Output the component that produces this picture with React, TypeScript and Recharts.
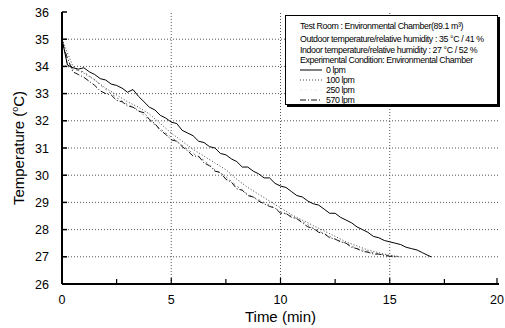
import React from "react";
import { LineChart, Line, XAxis, YAxis, ReferenceLine } from "recharts";

// ---- data ----
const T0 = [0,0.25,0.5,0.75,1,1.25,1.5,1.75,2,2.25,2.5,2.75,3,3.25,3.5,3.75,4,4.25,4.5,4.75,5,5.25,5.5,5.75,6,6.25,6.5,6.75,7,7.25,7.5,7.75,8,8.25,8.5,8.75,9,9.25,9.5,9.75,10,10.25,10.5,10.75,11,11.25,11.5,11.75,12,12.25,12.5,12.75,13,13.25,13.5,13.75,14,14.25,14.5,14.75,15,15.25,15.5,15.75,16,16.25,16.5,16.75,16.9];
const V0 = [35.0,34.05,33.95,33.9,33.95,33.8,33.7,33.55,33.5,33.35,33.3,33.2,33.05,33.15,32.9,32.7,32.5,32.4,32.2,32.1,31.95,31.9,31.65,31.55,31.45,31.25,31.2,31.05,31.0,30.8,30.75,30.6,30.5,30.3,30.3,30.15,30.05,29.9,29.9,29.7,29.6,29.55,29.4,29.25,29.2,29.05,28.95,28.9,28.75,28.6,28.6,28.45,28.35,28.25,28.1,28.0,27.9,27.75,27.7,27.6,27.55,27.5,27.45,27.35,27.3,27.25,27.15,27.05,27.0];

const T100 = [0,0.25,0.5,0.75,1,1.5,2,2.5,3,3.5,4,4.5,5,5.5,6,6.5,7,7.5,8,8.5,9,9.5,10,10.5,11,11.5,12,12.5,13,13.5,14,14.5,15,15.5];
const V100 = [35.0,34.5,34.0,33.85,33.75,33.5,33.2,32.95,32.7,32.5,32.25,31.9,31.55,31.25,30.95,30.7,30.45,30.2,29.85,29.55,29.3,29.05,28.8,28.55,28.35,28.15,27.95,27.75,27.55,27.4,27.25,27.15,27.05,27.0];

const T250 = [0,0.25,0.5,1,1.5,2,2.5,3,3.5,4,4.5,5,5.5,6,6.5,7,7.5,8,8.5,9,9.5,10,10.5,11,11.5,12,12.5,13,13.5,14,14.5,15,15.5];
const V250 = [35.1,34.0,33.9,33.8,33.5,33.15,32.85,32.6,32.4,32.0,31.7,31.4,31.1,30.8,30.55,30.2,29.95,29.6,29.3,29.1,28.9,28.65,28.5,28.3,28.05,27.85,27.65,27.5,27.3,27.2,27.1,27.05,27.0];

const T570 = [0,0.25,0.5,0.75,1,1.25,1.5,1.75,2,2.25,2.5,2.75,3,3.25,3.5,3.75,4,4.25,4.5,4.75,5,5.25,5.5,5.75,6,6.25,6.5,6.75,7,7.25,7.5,7.75,8,8.25,8.5,8.75,9,9.25,9.5,9.75,10,10.25,10.5,10.75,11,11.25,11.5,11.75,12,12.25,12.5,12.75,13,13.25,13.5,13.75,14,14.25,14.5,14.75,15,15.25];
const V570 = [34.9,34.3,33.8,33.7,33.6,33.45,33.3,33.1,33.0,32.95,32.75,32.7,32.55,32.5,32.35,32.3,32.05,31.9,31.65,31.5,31.3,31.25,31.05,30.9,30.7,30.7,30.45,30.35,30.15,30.1,29.85,29.75,29.5,29.45,29.25,29.2,29.05,28.95,28.85,28.8,28.6,28.6,28.45,28.4,28.25,28.1,28.05,27.9,27.85,27.7,27.65,27.55,27.5,27.35,27.3,27.2,27.17,27.1,27.1,27.05,27.02,27.0];

const X_DOMAIN = [0, 20];
const Y_DOMAIN = [26, 36];
const X_TICKS = [0,2.5,5,7.5,10,12.5,15,17.5,20];
const X_LABELS = [0,5,10,15,20];
const Y_TICKS = [26,26.5,27,27.5,28,28.5,29,29.5,30,30.5,31,31.5,32,32.5,33,33.5,34,34.5,35,35.5,36];
const GRID_Y = [27,28,29,30,31,32,33,34,35];
const GRID_X = [5,10,15];

const INFO_LINES = [
  "Test Room : Environmental Chamber(89.1 m\u00B3)",
  "Outdoor temperature/relative humidity : 35 \u00B0C / 41 %",
  "Indoor temperature/relative humidity : 27 \u00B0C / 52 %",
  "Experimental Condition: Environmental Chamber",
];
const SERIES_NAMES = ["0 lpm", "100 lpm", "250 lpm", "570 lpm"];

const zip = (t: number[], v: number[]) => t.map((x, i) => ({ x, y: v[i] }));
const d0 = zip(T0, V0);
const d100 = zip(T100, V100);
const d250 = zip(T250, V250);
const d570 = zip(T570, V570);

const FONT = "'Liberation Sans', Arial, sans-serif";
const PLOT_LEFT = 62;
const PLOT_BOTTOM = 284;

const YTick = (props: any) => {
  const { y, payload } = props;
  const v = payload.value;
  const major = Number.isInteger(v);
  return (
    <g>
      <line x1={PLOT_LEFT} x2={PLOT_LEFT + (major ? 5 : 3)} y1={y} y2={y} stroke="#000" strokeWidth={1.5} />
      {major && (
        <text x={49} y={y} dy={4.5} textAnchor="end" fontSize={12.5} fontFamily={FONT} fill="#000">
          {v}
        </text>
      )}
    </g>
  );
};

const XTick = (props: any) => {
  const { x, payload } = props;
  const v = payload.value;
  const major = X_LABELS.includes(v);
  return (
    <g>
      <line x1={x} x2={x} y1={PLOT_BOTTOM} y2={PLOT_BOTTOM - (major ? 6 : 5)} stroke="#000" strokeWidth={1.2} />
      {major && (
        <text x={x} y={PLOT_BOTTOM + 20} textAnchor="middle" fontSize={12.5} fontFamily={FONT} fill="#000">
          {v}
        </text>
      )}
    </g>
  );
};

const STYLES = [
  { stroke: "#000", dash: undefined as string | undefined, width: 1 },
  { stroke: "#444", dash: "1 2", width: 1 },
  { stroke: "#777", dash: "2 3", width: 0.9 },
  { stroke: "#111", dash: "6 2 1 2", width: 1 },
];

const AXIS_LINE = { stroke: "#000", strokeWidth: 2 };

export default function App() {
  return (
    <div style={{ position: "absolute", left: 0, top: 0, width: 505, height: 328 }}>
      <LineChart
        width={505}
        height={328}
        data={d0}
        margin={{ top: 12, right: 6, left: 22, bottom: 0 }}
      >
        <XAxis
          type="number"
          dataKey="x"
          domain={X_DOMAIN}
          ticks={X_TICKS}
          tick={<XTick />}
          tickLine={false}
          axisLine={AXIS_LINE}
          height={44}
        />
        <XAxis
          xAxisId="top"
          orientation="top"
          type="number"
          dataKey="x"
          domain={X_DOMAIN}
          tick={false}
          tickLine={false}
          axisLine={AXIS_LINE}
          height={0}
        />
        <YAxis
          type="number"
          domain={Y_DOMAIN}
          ticks={Y_TICKS}
          tick={<YTick />}
          tickLine={false}
          axisLine={AXIS_LINE}
          width={40}
        />
        <YAxis
          yAxisId="right"
          orientation="right"
          type="number"
          domain={Y_DOMAIN}
          tick={false}
          tickLine={false}
          axisLine={AXIS_LINE}
          width={0}
        />
        {GRID_Y.map((g) => (
          <ReferenceLine key={"gy" + g} y={g} stroke="#555" strokeDasharray="1 2" strokeWidth={1} />
        ))}
        {GRID_X.map((g) => (
          <ReferenceLine key={"gx" + g} x={g} stroke="#555" strokeDasharray="1 2" strokeWidth={1} />
        ))}
        <Line data={d250} dataKey="y" type="linear" dot={false} stroke={STYLES[2].stroke} strokeDasharray={STYLES[2].dash} strokeWidth={STYLES[2].width} isAnimationActive={false} />
        <Line data={d100} dataKey="y" type="linear" dot={false} stroke={STYLES[1].stroke} strokeDasharray={STYLES[1].dash} strokeWidth={STYLES[1].width} isAnimationActive={false} />
        <Line data={d570} dataKey="y" type="linear" dot={false} stroke={STYLES[3].stroke} strokeDasharray={STYLES[3].dash} strokeWidth={STYLES[3].width} isAnimationActive={false} />
        <Line dataKey="y" type="linear" dot={false} stroke={STYLES[0].stroke} strokeWidth={STYLES[0].width} isAnimationActive={false} />
      </LineChart>

      {/* axis titles */}
      <div style={{ position: "absolute", left: 0, top: 308, width: 505, textAlign: "center", paddingLeft: 56, boxSizing: "border-box", fontFamily: FONT, fontSize: 15, lineHeight: "18px" }}>
        Time (min)
      </div>
      <div
        style={{
          position: "absolute",
          left: 17,
          top: 148,
          transform: "translate(-50%, -50%) rotate(-90deg)",
          whiteSpace: "nowrap",
          fontFamily: FONT,
          fontSize: 15,
          lineHeight: "18px",
        }}
      >
        Temperature (<sup style={{ fontSize: 9 }}>o</sup>C)
      </div>

      {/* info / legend box */}
      <div
        style={{
          position: "absolute",
          left: 285,
          top: 15,
          width: 213,
          height: 90,
          border: "1px solid #000",
          boxShadow: "2px 2px 0 #000",
          background: "#fff",
          fontFamily: FONT,
          fontSize: 8.8,
          letterSpacing: -0.4,
          lineHeight: "10px",
          boxSizing: "border-box",
          padding: "5px 0 0 14px",
          color: "#000",
          whiteSpace: "nowrap",
        }}
      >
        {INFO_LINES.map((l, i) => (
          <div key={i} style={{ height: i === 0 ? 13 : i === 1 ? 11 : 10 }}>{l}</div>
        ))}
        {SERIES_NAMES.map((n, i) => (
          <div key={n} style={{ height: 10, display: "flex", alignItems: "center" }}>
            <svg width={24} height={8} style={{ marginRight: 2, flex: "none" }}>
              <line x1={0} x2={22} y1={4} y2={4} stroke={STYLES[i].stroke} strokeDasharray={STYLES[i].dash} strokeWidth={i === 2 ? 0.5 : 1} strokeOpacity={i === 2 ? 0.3 : 1} />
            </svg>
            <span style={{ lineHeight: "10px" }}>{n}</span>
          </div>
        ))}
      </div>
    </div>
  );
}
